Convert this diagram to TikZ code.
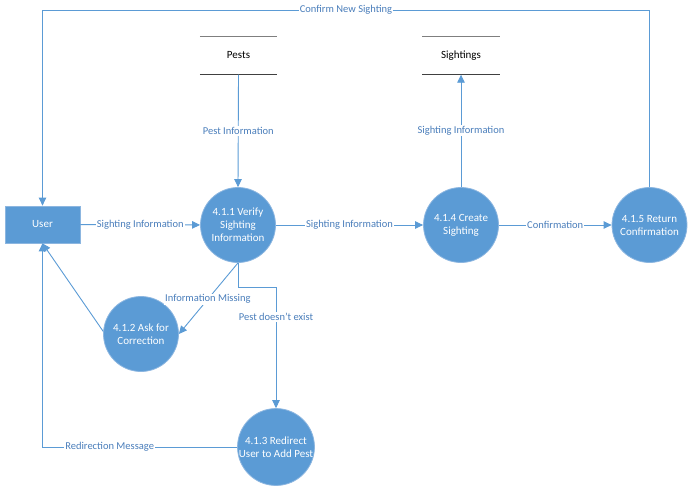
\documentclass[tikz,border=0pt]{standalone}
\usepackage{fontspec}
\setmainfont{Carlito}
\usetikzlibrary{arrows.meta}
\definecolor{procfill}{HTML}{5B9BD5}
\definecolor{procedge}{HTML}{8CB6E0}
\definecolor{flowline}{HTML}{5B9BD5}
\definecolor{flowtext}{HTML}{4A7EBB}
\definecolor{storetop}{HTML}{7F7F7F}
\definecolor{storebot}{HTML}{404040}
\tikzset{
  process/.style={circle, fill=procfill, draw=procedge, line width=0.8pt,
    minimum size=75pt, inner sep=0pt, text=white, align=center,
    font=\fontsize{11}{13}\selectfont},
  entity/.style={rectangle, fill=procfill, draw=procedge, line width=0.8pt,
    minimum width=75pt, minimum height=37pt, inner sep=0pt, text=white,
    font=\fontsize{11}{13}\selectfont},
  store/.style={rectangle, minimum width=77pt, minimum height=38pt,
    inner sep=0pt, text=black, font=\fontsize{11}{13}\selectfont},
  flow/.style={draw=flowline, line width=0.9pt,
    -{Triangle[length=8pt,width=7.5pt]}},
  flowlabel/.style={fill=white, text=flowtext, inner sep=1pt,
    font=\fontsize{10.5}{12}\selectfont}
}
\begin{document}
\begin{tikzpicture}[x=1pt,y=-1pt]
\useasboundingbox (0,0) rectangle (693,493);

% external entity
\node[entity] (user) at (42.5,224.5) {User};

% data stores
\node[store] (pests) at (238.5,55.5) {Pests};
\node[store] (sightings) at (461,55.5) {Sightings};
\foreach \s in {pests,sightings}{
  \draw[storetop, line width=1.3pt] (\s.north west) -- (\s.north east);
  \draw[storebot, line width=1.3pt] (\s.south west) -- (\s.south east);
}

% processes
\node[process] (p411) at (238,225) {4.1.1 Verify\\Sighting\\Information};
\node[process] (p412) at (141,334) {4.1.2 Ask for\\Correction};
\node[process] (p413) at (276,447) {4.1.3 Redirect\\User to Add Pest};
\node[process] (p414) at (461,225) {4.1.4 Create\\Sighting};
\node[process] (p415) at (649.5,225) {4.1.5 Return\\Confirmation};

\coordinate (topy) at (0,10);

% data flows
\draw[flow] (user) -- node[flowlabel] {Sighting Information} (p411);
\draw[flow] (pests.south) -- node[flowlabel] {Pest Information} (p411.north);
\draw[flow] (p411) -- node[flowlabel] {Sighting Information} (p414);
\draw[flow] (p414.north) -- node[flowlabel] {Sighting Information} (sightings.south);
\draw[flow] (p414) -- node[flowlabel] {Confirmation} (p415);
\draw[flow] (p415.north) -- (p415.north |- topy)
  -- node[flowlabel] {Confirm New Sighting} (user.north |- topy) -- (user.north);
\draw[flow] (p411.south) -- node[flowlabel, pos=0.51] {Information Missing} (p412.east);
\draw[flow] (p411.south) -- ++(0,25) -| node[flowlabel, pos=0.62] {Pest doesn't exist} (p413.north);
\draw[flow] (p412.176) -- (user.south);
\draw[flow] (p413.west) -- node[flowlabel, pos=0.655] {Redirection Message} (user.south |- p413.west) -- (user.south);
\end{tikzpicture}
\end{document}
